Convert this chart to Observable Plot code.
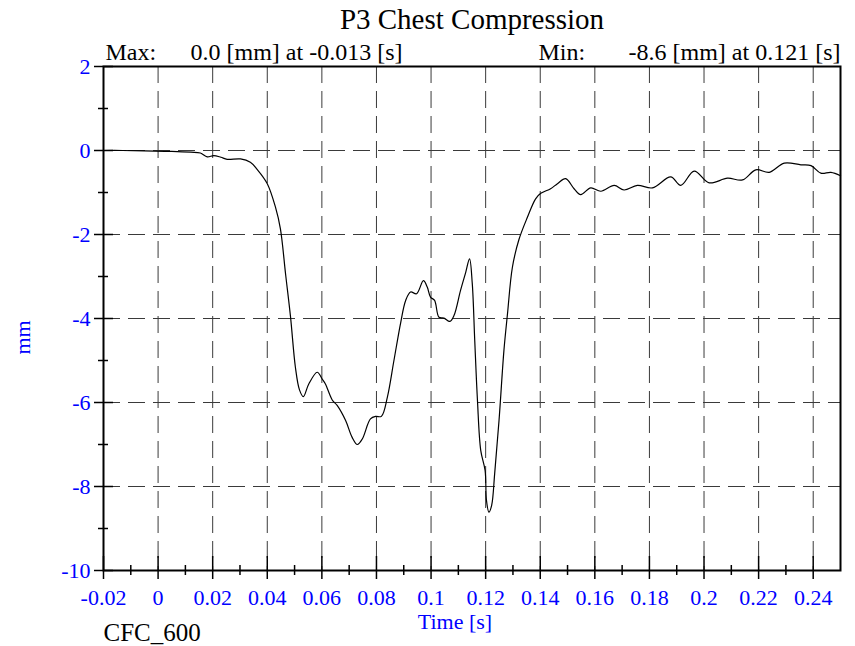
<!DOCTYPE html>
<html>
<head>
<meta charset="utf-8">
<script src="https://cdn.jsdelivr.net/npm/d3@7"></script>
<script src="https://cdn.jsdelivr.net/npm/@observablehq/plot@0.6"></script>
<style>
  html, body { margin: 0; padding: 0; background: white; }
</style>
</head>
<body>
<div id="chart"></div>
<script>
// ---- data ----
const timeS = [-0.02, -0.013, -0.005, 0.005, 0.012, 0.0155, 0.018, 0.0204, 0.023, 0.0253,
  0.0302, 0.0338, 0.0363, 0.040, 0.043, 0.0448, 0.0467, 0.0485, 0.0503, 0.0518,
  0.0532, 0.0552, 0.0583, 0.0601, 0.0613, 0.0638, 0.0656, 0.0687, 0.0711, 0.073,
  0.0748, 0.0778, 0.0797, 0.0818, 0.084, 0.0864, 0.0889, 0.0907, 0.0925, 0.0947,
  0.0972, 0.0986, 0.0998, 0.1013, 0.1029, 0.1047, 0.1069, 0.1084, 0.1108, 0.1127,
  0.1141, 0.1151, 0.116, 0.117, 0.1182, 0.1198, 0.1203, 0.1212, 0.1222, 0.1233,
  0.1249, 0.1267, 0.128, 0.1298, 0.1322, 0.1353, 0.1383, 0.1402, 0.1438, 0.1463,
  0.1493, 0.1524, 0.1548, 0.1585, 0.1622, 0.1671, 0.1707, 0.1756, 0.1811, 0.1878,
  0.1915, 0.1964, 0.2019, 0.2086, 0.2141, 0.219, 0.2239, 0.2294, 0.2355, 0.2392,
  0.2428, 0.2465, 0.25];
const compressionMm = [0, 0.0, -0.01, -0.02, -0.04, -0.06, -0.15, -0.12, -0.16, -0.21,
  -0.2, -0.28, -0.45, -0.79, -1.35, -1.86, -2.94, -3.95, -5.16, -5.7,
  -5.86, -5.56, -5.28, -5.44, -5.56, -5.94, -6.07, -6.43, -6.83, -7.0,
  -6.87, -6.39, -6.33, -6.33, -5.87, -5.0, -4.09, -3.57, -3.37, -3.41,
  -3.10, -3.25, -3.49, -3.57, -3.97, -3.99, -4.07, -3.93, -3.33, -2.90,
  -2.58, -3.17, -4.52, -5.95, -7.14, -7.62, -8.33, -8.61, -8.45, -7.70,
  -6.43, -4.76, -3.89, -2.78, -2.12, -1.59, -1.15, -1.02, -0.91, -0.79,
  -0.67, -0.91, -1.05, -0.89, -0.97, -0.83, -0.94, -0.83, -0.89, -0.63,
  -0.83, -0.49, -0.77, -0.66, -0.70, -0.46, -0.52, -0.30, -0.34, -0.36,
  -0.54, -0.52, -0.60];

const xDomain = [-0.02, 0.25];
const yDomain = [-10, 2];
const xMajor = [-0.02, 0, 0.02, 0.04, 0.06, 0.08, 0.1, 0.12, 0.14, 0.16, 0.18, 0.2, 0.22, 0.24];
const xTickLabels = ["-0.02", "0", "0.02", "0.04", "0.06", "0.08", "0.1", "0.12", "0.14", "0.16", "0.18", "0.2", "0.22", "0.24"];
const xMinor = [-0.01, 0.01, 0.03, 0.05, 0.07, 0.09, 0.11, 0.13, 0.15, 0.17, 0.19, 0.21, 0.23];
const xGrid = [0, 0.02, 0.04, 0.06, 0.08, 0.1, 0.12, 0.14, 0.16, 0.18, 0.2, 0.22, 0.24];
const yMajor = [2, 0, -2, -4, -6, -8, -10];
const yTickLabels = ["2", "0", "-2", "-4", "-6", "-8", "-10"];
const yMinor = [1, -1, -3, -5, -7, -9];
const yGrid = [0, -2, -4, -6, -8];

const title = "P3 Chest Compression";
const maxLabel = "Max:";
const maxText = "0.0 [mm] at -0.013 [s]";
const minLabel = "Min:";
const minText = "-8.6 [mm] at 0.121 [s]";
const xLabel = "Time [s]";
const yLabel = "mm";
const filterLabel = "CFC_600";

const data = timeS.map((t, i) => ({t, v: compressionMm[i]}));
const blue = "#0000ff";
const font = "Liberation Serif, Times New Roman, serif";

const chart = Plot.plot({
  width: 855,
  height: 646,
  marginLeft: 103,
  marginRight: 15,
  marginTop: 66,
  marginBottom: 76,
  x: {domain: xDomain, axis: null},
  y: {domain: yDomain, axis: null},
  style: {fontFamily: font, background: "white", overflow: "visible"},
  marks: [
    // dashed grid
    Plot.ruleX(xGrid, {x: d => d, stroke: "#3a3a3a", strokeWidth: 1, strokeDasharray: "17,8"}),
    Plot.ruleY(yGrid, {y: d => d, stroke: "#3a3a3a", strokeWidth: 1, strokeDasharray: "17,8"}),
    // frame
    Plot.frame({stroke: "black", strokeWidth: 2}),
    // x ticks
    Plot.ruleX(xMajor, {x: d => d, y1: yDomain[0], y2: yDomain[0], insetTop: -14, insetBottom: -9, stroke: "black", strokeWidth: 1.5}),
    Plot.ruleX(xMinor, {x: d => d, y1: yDomain[0], y2: yDomain[0], insetTop: -5, insetBottom: -5, stroke: "black", strokeWidth: 1.5}),
    // y ticks
    Plot.ruleY(yMajor, {y: d => d, x1: xDomain[0], x2: xDomain[0], insetLeft: -9, insetRight: -10, stroke: "black", strokeWidth: 1.5}),
    Plot.ruleY(yMinor, {y: d => d, x1: xDomain[0], x2: xDomain[0], insetLeft: -5, insetRight: -5, stroke: "black", strokeWidth: 1.5}),
    // data line
    Plot.line(data, {x: "t", y: "v", stroke: "black", strokeWidth: 1.2, curve: "catmull-rom"}),
    // tick labels
    Plot.text(xMajor, {x: d => d, frameAnchor: "bottom", lineAnchor: "middle", dy: 27, text: (d, i) => xTickLabels[i], fill: blue, fontSize: 22}),
    Plot.text(yMajor, {y: d => d, frameAnchor: "left", lineAnchor: "middle", textAnchor: "end", dx: -13, text: (d, i) => yTickLabels[i], fill: blue, fontSize: 22}),
    // axis labels
    Plot.text([xLabel], {frameAnchor: "bottom", lineAnchor: "middle", dx: -17, dy: 51, text: d => d, fill: blue, fontSize: 22}),
    Plot.text([yLabel], {frameAnchor: "left", lineAnchor: "middle", dx: -81, dy: 36, rotate: -90, text: d => d, fill: blue, fontSize: 22}),
    Plot.text([filterLabel], {frameAnchor: "bottom-left", lineAnchor: "middle", textAnchor: "start", dy: 62, text: d => d, fill: "black", fontSize: 25}),
    // title and header
    Plot.text([title], {frameAnchor: "top", lineAnchor: "middle", dy: -47, text: d => d, fill: "black", fontSize: 29}),
    Plot.text([maxLabel], {frameAnchor: "top-left", lineAnchor: "middle", textAnchor: "start", dx: 2, dy: -14, text: d => d, fill: "black", fontSize: 24}),
    Plot.text([maxText], {frameAnchor: "top-left", lineAnchor: "middle", textAnchor: "start", dx: 87, dy: -14, text: d => d, fill: "black", fontSize: 24}),
    Plot.text([minLabel], {frameAnchor: "top-left", lineAnchor: "middle", textAnchor: "start", dx: 435, dy: -14, text: d => d, fill: "black", fontSize: 24}),
    Plot.text([minText], {frameAnchor: "top-right", lineAnchor: "middle", textAnchor: "end", dx: 0, dy: -14, text: d => d, fill: "black", fontSize: 24})
  ]
});
document.getElementById("chart").appendChild(chart);
</script>
</body>
</html>
